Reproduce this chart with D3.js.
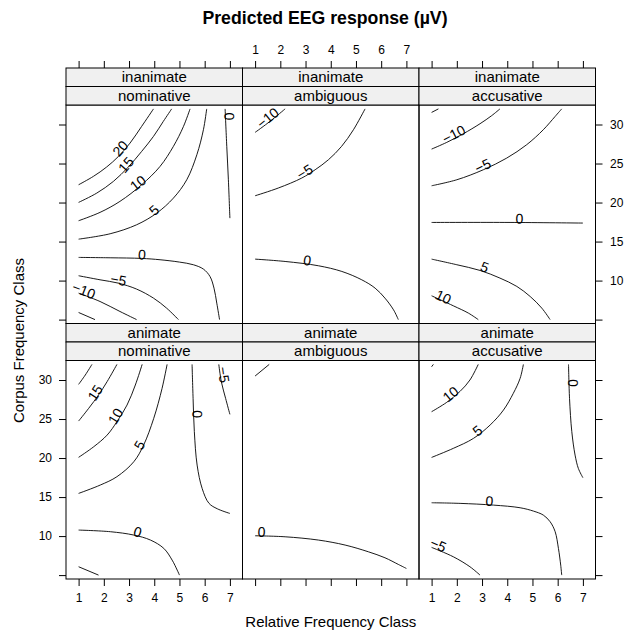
<!DOCTYPE html>
<html><head><meta charset="utf-8">
<script src="https://cdn.jsdelivr.net/npm/d3@7"></script>
<style>
body{margin:0;background:#fff}
text{font-family:"Liberation Sans",Arial,Helvetica,sans-serif}
</style>
</head><body>
<svg id="chart" width="624" height="634"></svg>
<script>
// ---------------- data ----------------
const title = "Predicted EEG response (\u00B5V)";
const xLabel = "Relative Frequency Class";
const yLabel = "Corpus Frequency Class";
const animacyLevels = ["inanimate", "animate"];          // outer strip (rows, top to bottom)
const caseLevels = ["nominative", "ambiguous", "accusative"]; // inner strip (columns)
const xTicks = [1, 2, 3, 4, 5, 6, 7];
const yTicks = [5, 10, 15, 20, 25, 30];
const yTickLabels = ["", "10", "15", "20", "25", "30"];
const xDomain = [0.5, 7.5];
const yDomain = [4.5, 32.5];

// contour lines: level, points [relFreq, corpusFreq], label anchor
const inanimateNominative = [
  {level: 20, pts: [[1,22.28],[1.585,23.35],[2.11,24.55],[2.58,25.91],[3.04,27.62],[3.5,29.76],[3.97,32]], label: [2.77,26.6]},
  {level: 15, pts: [[1,20.02],[1.72,21.21],[2.38,22.71],[2.97,24.55],[3.5,26.55],[3.97,28.48],[4.36,30.4],[4.69,32]], label: [3.0,24.5]},
  {level: 10, pts: [[1,17.67],[1.85,18.74],[2.64,20.15],[3.5,22.28],[4.23,24.63],[4.76,27.2],[5.16,29.76],[5.42,32]], label: [3.45,22.1]},
  {level: 5, pts: [[1,15.31],[2.25,16.0],[3.3,17.15],[4.1,18.65],[4.76,20.57],[5.29,22.92],[5.69,26.13],[5.95,29.33],[6.08,32]], label: [4.1,18.65]},
  {level: 0, pts: [[6.81,32],[6.876,27.2],[6.94,22.92],[7.0,18.0]], label: [6.82,31.0]},
  {level: 0, pts: [[1,12.97],[2.25,12.92],[3.5,12.84],[4.23,12.67],[5.0,12.37],[5.55,12.03],[5.95,11.47],[6.21,10.53],[6.37,9.03],[6.48,7.11],[6.59,5]], label: [3.5,12.84]},
  {level: -5, pts: [[1,10.62],[1.85,10.1],[2.58,9.67],[3.3,8.91],[3.97,7.75],[4.49,6.47],[4.96,5]], label: [2.55,9.6]},
  {level: -10, pts: [[1,8.39],[1.85,7.32],[2.64,6.04],[3.3,5]], label: [1.15,8.25]},
  {level: -15, pts: [[1,5.91],[1.65,5]], label: null}
];
const inanimateAmbiguous = [
  {level: -10, pts: [[1,28.99],[1.59,30.4],[2.19,32]], label: [1.6,30.45]},
  {level: -5, pts: [[1,20.87],[1.92,21.86],[2.85,23.14],[3.38,24.2],[3.91,25.49],[4.43,27.2],[4.9,29.33],[5.36,32]], label: [3.05,23.5]},
  {level: 0, pts: [[1,12.75],[2.19,12.45],[3.51,11.9],[4.44,11.17],[5.23,10.1],[5.76,9.03],[6.15,7.75],[6.49,6.25],[6.68,5]], label: [3.05,12.1]}
];
const inanimateAccusative = [
  {level: -15, pts: [[1,31.55],[1.27,32]], label: null},
  {level: -10, pts: [[1,26.85],[1.6,27.71],[2.26,28.82],[2.92,30.1],[3.38,31.13],[3.71,32]], label: [1.95,28.3]},
  {level: -5, pts: [[1,22.15],[2.0,22.92],[3.05,24.2],[3.98,25.7],[4.77,27.41],[5.43,29.33],[5.9,31.04],[6.16,32]], label: [3.1,24.25]},
  {level: 0, pts: [[1,17.45],[4.11,17.45],[7.0,17.37]], label: [4.48,17.45]},
  {level: 5, pts: [[1,12.75],[2.0,12.03],[2.92,11.3],[3.71,10.32],[4.38,9.25],[4.91,7.96],[5.37,6.47],[5.7,5]], label: [3.05,11.25]},
  {level: 10, pts: [[1,8.05],[1.86,6.77],[2.46,5.83],[2.85,5]], label: [1.4,7.45]}
];
const animateNominative = [
  {level: 20, pts: [[1,29.44],[1.265,30.64],[1.53,32]], label: null},
  {level: 15, pts: [[1,24.74],[1.4,26.37],[1.79,28.08],[2.13,29.79],[2.52,32]], label: [1.79,28.08]},
  {level: 10, pts: [[1,20.09],[1.6,21.45],[2.13,22.94],[2.52,24.66],[2.92,26.79],[3.25,29.36],[3.52,32]], label: [2.6,25.1]},
  {level: 5, pts: [[1,15.47],[1.86,16.54],[2.52,17.61],[3.19,19.53],[3.58,21.67],[3.98,25.09],[4.31,28.93],[4.51,32]], label: [3.55,21.4]},
  {level: 0, pts: [[5.5,32],[5.54,27.65],[5.59,23.38],[5.7,19.1],[5.9,16.1],[6.17,14.2],[6.5,13.5],[7.0,12.9]], label: [5.55,25.6]},
  {level: -5, pts: [[6.56,32],[6.66,29.79],[6.83,27.65],[7.0,25.6]], label: [6.6,30.6]},
  {level: 0, pts: [[1,10.77],[2.26,10.56],[3.19,10.13],[3.85,9.49],[4.38,8.42],[4.71,6.92],[4.91,5.64],[5.0,5]], label: [3.3,10.05]},
  {level: -5, pts: [[1,6.07],[1.79,5]], label: null}
];
const animateAmbiguous = [
  {level: -10, pts: [[1,30.51],[1.56,32]], label: null},
  {level: 0, pts: [[1,10.04],[2.19,9.91],[3.51,9.49],[4.57,8.85],[5.49,7.99],[6.15,7.22],[6.68,6.37],[7.0,5.85]], label: [1.25,10.02]}
];
const animateAccusative = [
  {level: 15, pts: [[1,31.7],[1.07,32]], label: null},
  {level: 10, pts: [[1,25.94],[1.6,27.14],[2.13,28.55],[2.52,30.0],[2.85,32]], label: [1.85,27.8]},
  {level: 5, pts: [[1,20.08],[1.86,21.24],[2.66,22.52],[3.32,24.23],[3.85,26.15],[4.24,28.29],[4.51,30.21],[4.64,32]], label: [2.92,23.1]},
  {level: 0, pts: [[6.43,32],[6.47,27.65],[6.56,23.38],[6.69,20.38],[6.82,18.67],[7.0,17.48]], label: [6.45,29.6]},
  {level: 0, pts: [[1,14.27],[2.13,14.19],[3.45,13.97],[4.51,13.63],[5.04,13.2],[5.43,12.69],[5.7,11.84],[5.9,10.56],[6.03,8.42],[6.12,6.28],[6.16,5]], label: [3.28,14.0]},
  {level: -5, pts: [[1,8.55],[1.86,7.35],[2.52,6.07],[2.92,5]], label: [1.2,8.4]}
];
const panelContours = [
  [inanimateNominative, inanimateAmbiguous, inanimateAccusative],
  [animateNominative, animateAmbiguous, animateAccusative]
];

// ---------------- layout ----------------
const svg = d3.select("#chart");
const panelLeft = 66, panelW = 176.5;
const layoutTop = 68, stripH = 18.5, panelH = 218.5;
const tickFont = 12, stripFont = 15, labelFont = 14;
const ink = "#000";

function rowTop(r) { return layoutTop + r * (2 * stripH + panelH); }
function panelTop(r) { return rowTop(r) + 2 * stripH; }

const fmtLevel = v => v < 0 ? "\u2212" + Math.abs(v) : String(v);
const line = d3.line().curve(d3.curveCatmullRom.alpha(0.5));

svg.append("text")
  .attr("x", 325).attr("y", 24)
  .attr("text-anchor", "middle")
  .attr("font-size", 17.7).attr("font-weight", "bold")
  .text(title);

animacyLevels.forEach((anim, r) => {
  caseLevels.forEach((cs, c) => {
    const x0 = panelLeft + c * panelW;
    const y0 = panelTop(r);
    const xs = d3.scaleLinear().domain(xDomain).range([x0, x0 + panelW]);
    const ys = d3.scaleLinear().domain(yDomain).range([y0 + panelH, y0]);
    const g = svg.append("g");
    const clipId = `clip-${r}-${c}`;
    svg.append("clipPath").attr("id", clipId)
      .append("rect").attr("x", x0).attr("y", y0).attr("width", panelW).attr("height", panelH);

    const pg = g.append("g").attr("clip-path", `url(#${clipId})`);
    const contours = panelContours[r][c];
    contours.forEach(cl => {
      const pix = cl.pts.map(p => [xs(p[0]), ys(p[1])]);
      pg.append("path")
        .attr("d", line(pix))
        .attr("fill", "none").attr("stroke", ink).attr("stroke-width", 0.9);
      if (cl.label) {
        const lx = xs(cl.label[0]), ly = ys(cl.label[1]);
        // angle from nearest segment
        let best = 0, bd = Infinity;
        for (let i = 0; i < pix.length - 1; i++) {
          const mx = (pix[i][0] + pix[i+1][0]) / 2, my = (pix[i][1] + pix[i+1][1]) / 2;
          const d = (mx - lx) ** 2 + (my - ly) ** 2;
          if (d < bd) { bd = d; best = i; }
        }
        let ang = Math.atan2(pix[best+1][1] - pix[best][1], pix[best+1][0] - pix[best][0]) * 180 / Math.PI;
        if (ang > 90) ang -= 180;
        if (ang < -90) ang += 180;
        pg.append("text")
          .attr("transform", `translate(${lx},${ly}) rotate(${ang})`)
          .attr("text-anchor", "middle")
          .attr("dy", 1)
          .attr("font-size", labelFont)
          .attr("fill", ink)
          .text(fmtLevel(cl.level));
      }
    });

    g.append("rect").attr("x", x0).attr("y", y0).attr("width", panelW).attr("height", panelH)
      .attr("fill", "none").attr("stroke", ink).attr("stroke-width", 1);

    // strips
    [anim, cs].forEach((lab, k) => {
      const sy = rowTop(r) + k * stripH;
      g.append("rect").attr("x", x0).attr("y", sy).attr("width", panelW).attr("height", stripH)
        .attr("fill", "#f0f0f0").attr("stroke", ink).attr("stroke-width", 1);
      g.append("text").attr("x", x0 + panelW / 2).attr("y", sy + stripH / 2 + 5)
        .attr("text-anchor", "middle").attr("font-size", stripFont).attr("fill", ink)
        .text(lab);
    });

    // axes
    function styleAxis(sel) {
      sel.select(".domain").remove();
      sel.selectAll("line").attr("stroke", ink);
      sel.selectAll("text").attr("font-size", tickFont).attr("fill", ink)
        .attr("font-family", "Liberation Sans, Arial, sans-serif");
      sel.attr("font-family", null).attr("font-size", null);
    }
    if (r === 0) {
      const ax = d3.axisTop(xs).tickValues(xTicks).tickSize(7).tickPadding(7.5)
        .tickFormat(c === 1 ? d3.format("d") : () => "");
      svg.append("g").attr("transform", `translate(0,${rowTop(0)})`).call(ax).call(styleAxis);
    }
    if (r === animacyLevels.length - 1) {
      const ax = d3.axisBottom(xs).tickValues(xTicks).tickSize(7).tickPadding(7)
        .tickFormat(c !== 1 ? d3.format("d") : () => "");
      svg.append("g").attr("transform", `translate(0,${y0 + panelH})`).call(ax).call(styleAxis);
    }
    if (c === 0) {
      const ax = d3.axisLeft(ys).tickValues(yTicks).tickSize(7).tickPadding(7)
        .tickFormat((d, i) => r === 1 ? yTickLabels[i] : "");
      svg.append("g").attr("transform", `translate(${x0},0)`).call(ax).call(styleAxis);
    }
    if (c === caseLevels.length - 1) {
      const ax = d3.axisRight(ys).tickValues(yTicks).tickSize(7).tickPadding(7.5)
        .tickFormat((d, i) => r === 0 ? yTickLabels[i] : "");
      svg.append("g").attr("transform", `translate(${x0 + panelW},0)`).call(ax).call(styleAxis);
    }
  });
});

svg.append("text")
  .attr("x", panelLeft + 1.5 * panelW).attr("y", 627)
  .attr("text-anchor", "middle").attr("font-size", 15).attr("fill", ink)
  .text(xLabel);

svg.append("text")
  .attr("transform", "translate(23.5,340.5) rotate(-90)")
  .attr("text-anchor", "middle").attr("font-size", 15).attr("fill", ink)
  .text(yLabel);
</script>
</body></html>
